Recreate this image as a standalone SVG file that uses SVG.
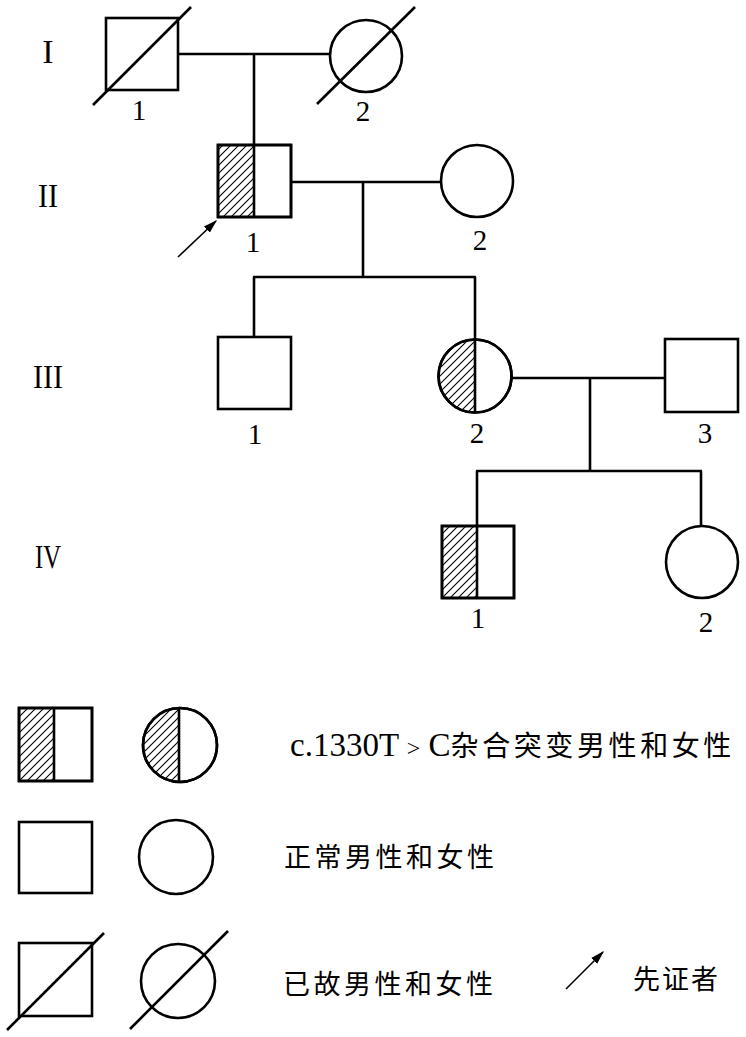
<svg xmlns="http://www.w3.org/2000/svg" width="746" height="1037" viewBox="0 0 746 1037">
<style>
.s{fill:#fff;stroke:#000;stroke-width:2.6}
.h{fill:url(#hatch);stroke:none}
.l{stroke:#000;stroke-width:2.6;fill:none}
.t{font-family:"Liberation Serif","Times New Roman",serif;font-size:29px;fill:#000;text-anchor:middle}
.g{font-family:"Liberation Serif","Times New Roman",serif;font-size:34px;fill:#000;text-anchor:middle}
.c{font-family:"Noto Sans CJK SC","Noto Sans",sans-serif;fill:#000}
</style>
<defs>
<pattern id="hatch" patternUnits="userSpaceOnUse" width="8" height="8">
<path d="M-2,2 L2,-2 M0,8 L8,0 M6,10 L10,6" stroke="#000" stroke-width="1.1"/>
</pattern>
<marker id="arr" viewBox="0 0 10 10" refX="9" refY="5" markerWidth="14" markerHeight="14" orient="auto" markerUnits="userSpaceOnUse">
<path d="M0,2 L10,5 L0,8 Z" fill="#000"/>
</marker>
</defs>

<g id="generation-labels">
<text class="g" x="48" y="63" font-size="30">I</text>
<text class="g" x="48" y="207" textLength="20" lengthAdjust="spacingAndGlyphs">II</text>
<text class="g" x="48" y="388" textLength="30" lengthAdjust="spacingAndGlyphs">III</text>
<text class="g" x="48" y="568" textLength="26" lengthAdjust="spacingAndGlyphs">IV</text>
</g>

<g id="connectors">
<line class="l" x1="178" y1="54" x2="330" y2="54"/>
<line class="l" x1="254" y1="54" x2="254" y2="145"/>
<line class="l" x1="291" y1="182" x2="441" y2="182"/>
<line class="l" x1="363" y1="182" x2="363" y2="277"/>
<line class="l" x1="253" y1="277" x2="476" y2="277"/>
<line class="l" x1="254" y1="277" x2="254" y2="337"/>
<line class="l" x1="475" y1="277" x2="475" y2="340"/>
<line class="l" x1="512" y1="378" x2="665" y2="378"/>
<line class="l" x1="590" y1="378" x2="590" y2="471"/>
<line class="l" x1="476" y1="471" x2="702" y2="471"/>
<line class="l" x1="477" y1="471" x2="477" y2="526"/>
<line class="l" x1="701" y1="471" x2="701" y2="526"/>
<line stroke="#000" stroke-width="1.6" x1="178" y1="257" x2="216" y2="221" marker-end="url(#arr)"/>
</g>

<g id="I-1">
<rect class="s" x="106" y="18" width="72" height="72"/>
<line class="l" x1="93" y1="105" x2="191" y2="7"/>
<text class="t" x="139" y="120">1</text>
</g>
<g id="I-2">
<circle class="s" cx="366" cy="56" r="36"/>
<line class="l" x1="317" y1="104" x2="415" y2="7"/>
<text class="t" x="363" y="121">2</text>
</g>

<g id="II-1">
<rect class="s" x="218" y="145" width="73" height="72"/>
<rect class="h" x="218" y="145" width="36" height="72"/>
<line class="l" x1="254" y1="145" x2="254" y2="217"/>
<rect class="l" x="218" y="145" width="73" height="72"/>
<text class="t" x="253" y="252">1</text>
</g>
<g id="II-2">
<circle class="s" cx="477" cy="181" r="36"/>
<text class="t" x="480" y="250">2</text>
</g>

<g id="III-1">
<rect class="s" x="218" y="337" width="73" height="72"/>
<text class="t" x="255" y="444">1</text>
</g>
<g id="III-2">
<circle class="s" cx="475" cy="376" r="36.5"/>
<path class="h" d="M475,339.5 A36.5,36.5 0 0,0 475,412.5 Z"/>
<circle class="l" cx="475" cy="376" r="36.5"/>
<line class="l" x1="475" y1="339.5" x2="475" y2="412.5"/>
<text class="t" x="477" y="443">2</text>
</g>
<g id="III-3">
<rect class="s" x="665" y="339" width="73" height="73"/>
<text class="t" x="705" y="443">3</text>
</g>

<g id="IV-1">
<rect class="s" x="442" y="526" width="72" height="72"/>
<rect class="h" x="442" y="526" width="35" height="72"/>
<line class="l" x1="477" y1="526" x2="477" y2="598"/>
<rect class="l" x="442" y="526" width="72" height="72"/>
<text class="t" x="478" y="628">1</text>
</g>
<g id="IV-2">
<circle class="s" cx="702" cy="562" r="36"/>
<text class="t" x="706" y="632">2</text>
</g>

<g id="legend-carrier">
<rect class="s" x="19" y="708" width="73" height="73"/>
<rect class="h" x="19" y="708" width="35" height="73"/>
<line class="l" x1="54" y1="708" x2="54" y2="781"/>
<rect class="l" x="19" y="708" width="73" height="73"/>
<circle class="s" cx="180" cy="745" r="37"/>
<path class="h" d="M179,708 A37,37 0 0,0 179,782 Z"/>
<circle class="l" cx="180" cy="745" r="37"/>
<line class="l" x1="179" y1="708" x2="179" y2="782"/>
<text x="290" y="756" font-size="33"><tspan font-family="Liberation Serif, serif">c.1330T <tspan font-size="24">&gt;</tspan> C</tspan><tspan class="c" font-size="28" letter-spacing="3.6">杂合突变男性和女性</tspan></text>
</g>

<g id="legend-normal">
<rect class="s" x="19" y="822" width="73" height="71"/>
<circle class="s" cx="176" cy="857" r="37"/>
<text class="c" x="284" y="867" font-size="27" letter-spacing="3.5">正常男性和女性</text>
</g>

<g id="legend-deceased">
<rect class="s" x="19" y="943" width="73" height="73"/>
<line class="l" x1="7" y1="1030" x2="104" y2="933"/>
<circle class="s" cx="178" cy="981" r="37"/>
<line class="l" x1="130" y1="1029" x2="228" y2="931"/>
<text class="c" x="283" y="994" font-size="27" letter-spacing="3.5">已故男性和女性</text>
</g>

<g id="legend-proband">
<line stroke="#000" stroke-width="1.6" x1="566" y1="989" x2="603" y2="952" marker-end="url(#arr)"/>
<text class="c" x="633" y="989" font-size="27" letter-spacing="2">先证者</text>
</g>
</svg>
